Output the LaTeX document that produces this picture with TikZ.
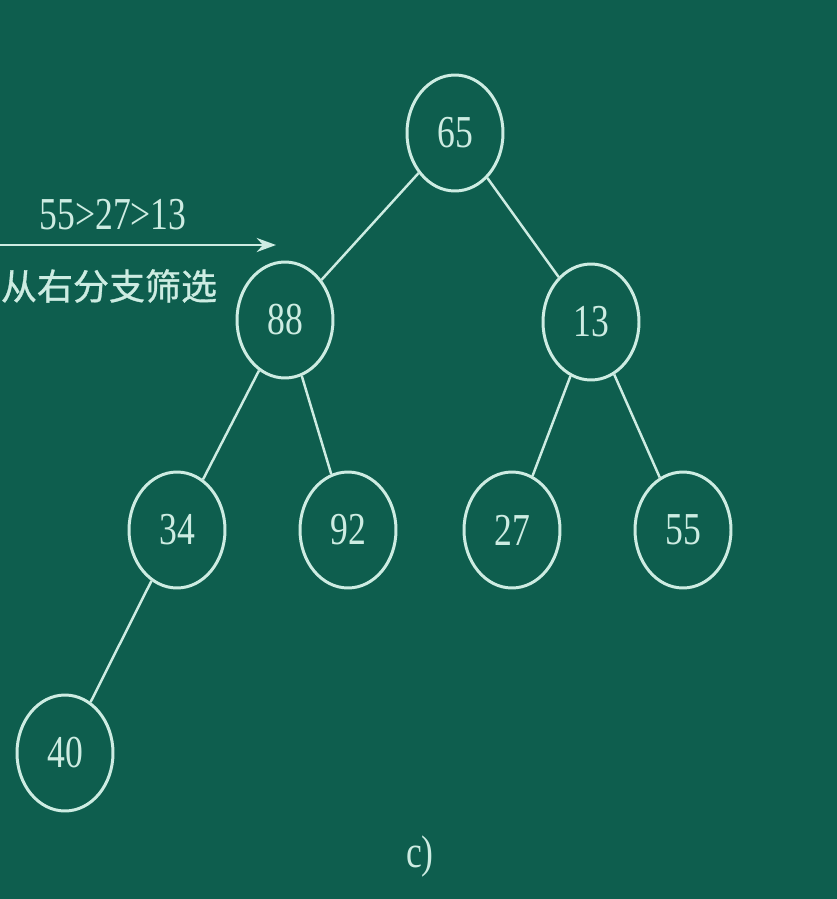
\documentclass[tikz,border=0pt]{standalone}
\usepackage{fontspec}
\setmainfont{Liberation Serif}
\newfontfamily\narrowserif[FakeStretch=0.78]{Liberation Serif}
\newfontfamily\cjk[FakeBold=0.9]{Noto Sans CJK SC}
\usetikzlibrary{shapes.geometric,arrows.meta}
\definecolor{board}{RGB}{14,94,78}
\definecolor{chalk}{RGB}{205,236,226}
\tikzset{
	heapnode/.style={ellipse, draw=chalk, line width=1.7pt, minimum width=1.92cm, minimum height=2.32cm, inner sep=0pt, text=chalk, font=\narrowserif\fontsize{26}{26}\selectfont},
	heapedge/.style={draw=chalk, line width=1.4pt},
	chalktext/.style={text=chalk, inner sep=0pt}
}

\begin{document}
\begin{tikzpicture}[x=0.02cm, y=-0.02cm]
		%%%%% START %%%%%
		
		\fill[board] (0, 0) rectangle (837, 899);
		\useasboundingbox (0, 0) rectangle (837, 899);
		
		\node[heapnode] (n65) at (455, 133) {65};
		\node[heapnode] (n88) at (285, 320) {88};
		\node[heapnode] (n13) at (591, 322) {13};
		\node[heapnode] (n34) at (177, 530) {34};
		\node[heapnode] (n92) at (348, 530) {92};
		\node[heapnode] (n27) at (512, 530) {27};
		\node[heapnode] (n55) at (683, 530) {55};
		\node[heapnode] (n40) at (65, 753) {40};
		
		\draw[heapedge] (n65) -- (n88);
		\draw[heapedge] (n65) -- (n13);
		\draw[heapedge] (n88) -- (n34);
		\draw[heapedge] (n88) -- (n92);
		\draw[heapedge] (n13) -- (n27);
		\draw[heapedge] (n13) -- (n55);
		\draw[heapedge] (n34) -- (n40);
		
		\coordinate (arrowstart) at (0, 245);
		\coordinate (arrowend) at (276, 245);
		\draw[chalk, line width=1.4pt, -{Stealth[length=11pt, width=8pt]}] (arrowstart) -- (arrowend);
		
		\node[chalktext, font=\narrowserif\fontsize{26}{26}\selectfont] (order) at (113, 215) {55>27>13};
		\node[chalktext, font=\cjk\fontsize{20.5}{20.5}\selectfont] (hint) at (109, 286) {从右分支筛选};
		
		\node[chalktext, font=\narrowserif\fontsize{26}{26}\selectfont] (caption) at (420, 857) {c)};
		
		%%%%% END %%%%%
\end{tikzpicture}
\end{document}
